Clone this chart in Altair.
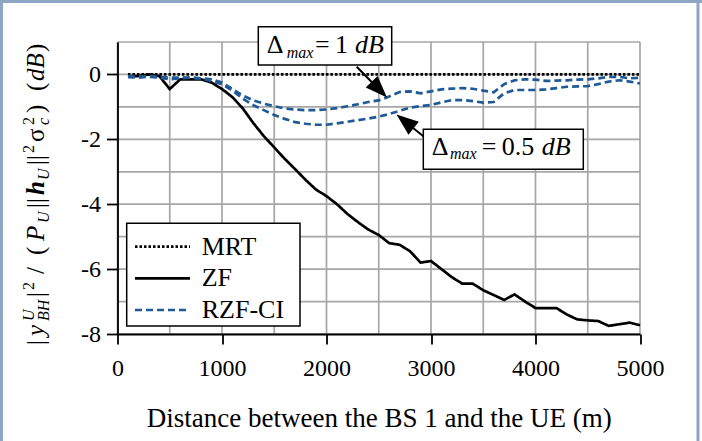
import altair as alt
import pandas as pd

# ---------------- data ----------------
distance = [100, 200, 300, 400, 500, 600, 700, 800, 900, 1000,
            1100, 1200, 1300, 1400, 1500, 1600, 1700, 1800, 1900, 2000,
            2100, 2200, 2300, 2400, 2500, 2600, 2700, 2800, 2900, 3000,
            3100, 3200, 3300, 3400, 3500, 3600, 3700, 3800, 3900, 4000,
            4100, 4200, 4300, 4400, 4500, 4600, 4700, 4800, 4900, 5000]

mrt = [0.0, 0.0, 0.0, 0.0, 0.0, 0.0, 0.0, 0.0, 0.0, 0.0,
       0.0, 0.0, 0.0, 0.0, 0.0, 0.0, 0.0, 0.0, 0.0, 0.0,
       0.0, 0.0, 0.0, 0.0, 0.0, 0.0, 0.0, 0.0, 0.0, 0.0,
       0.0, 0.0, 0.0, 0.0, 0.0, 0.0, 0.0, 0.0, 0.0, 0.0,
       0.0, 0.0, 0.0, 0.0, 0.0, 0.0, 0.0, 0.0, 0.0, 0.0]

zf = [-0.05, -0.05, 0.0, -0.05, -0.45, -0.15, -0.15, -0.15, -0.25, -0.45,
      -0.7, -1.05, -1.5, -1.9, -2.25, -2.6, -2.92, -3.25, -3.55, -3.75,
      -4.0, -4.3, -4.55, -4.78, -4.95, -5.2, -5.25, -5.45, -5.8, -5.75,
      -6.0, -6.25, -6.45, -6.45, -6.65, -6.8, -6.95, -6.78, -7.0, -7.2,
      -7.2, -7.2, -7.4, -7.55, -7.58, -7.6, -7.75, -7.7, -7.65, -7.73]

rzf_1db = [-0.05, -0.07, -0.05, -0.07, -0.1, -0.1, -0.1, -0.12, -0.15, -0.25,
           -0.45, -0.65, -0.8, -0.9, -0.98, -1.05, -1.08, -1.1, -1.1, -1.08,
           -1.04, -0.98, -0.92, -0.85, -0.8, -0.68, -0.54, -0.52, -0.58, -0.52,
           -0.46, -0.44, -0.42, -0.44, -0.5, -0.55, -0.3, -0.18, -0.15, -0.16,
           -0.2, -0.19, -0.18, -0.16, -0.15, -0.12, -0.08, -0.07, -0.12, -0.1]

rzf_05db = [-0.08, -0.1, -0.07, -0.1, -0.15, -0.12, -0.1, -0.12, -0.2, -0.3,
            -0.5, -0.75, -0.95, -1.1, -1.25, -1.37, -1.47, -1.52, -1.55, -1.55,
            -1.51, -1.46, -1.41, -1.36, -1.3, -1.22, -1.12, -1.02, -0.98, -0.94,
            -0.86, -0.79, -0.79, -0.82, -0.87, -0.85, -0.58, -0.48, -0.48, -0.48,
            -0.46, -0.42, -0.38, -0.37, -0.36, -0.3, -0.22, -0.18, -0.22, -0.28]

schemes = ["MRT", "ZF", "RZF-CI"]
x_ticks = [0, 1000, 2000, 3000, 4000, 5000]
y_ticks = [-8, -6, -4, -2, 0]
x_grid = [0, 500, 1000, 1500, 2000, 2500, 3000, 3500, 4000, 4500, 5000]
y_grid = [-8, -7, -6, -5, -4, -3, -2, -1, 0, 1]

# ---------------- styles ----------------
FONT = "Liberation Serif"
BLUE = "#1f5a96"
GRID = "#a6a6a6"
dashes = {"MRT": [2.5, 2], "ZF": [1, 0], "RZF-CI": [7, 4]}
colors = {"MRT": "black", "ZF": "black", "RZF-CI": BLUE}
LABEL_EXPR = "datum.value < 0 ? '-' + format(-datum.value, 'd') : format(datum.value, 'd')"

rows = []
for series, name, variant in [(mrt, "MRT", "a"), (zf, "ZF", "a"),
                              (rzf_1db, "RZF-CI", "1dB"), (rzf_05db, "RZF-CI", "0.5dB")]:
    for d, v in zip(distance, series):
        rows.append({"distance": d, "value": v, "scheme": name, "variant": variant})
df = pd.DataFrame(rows)

xscale = alt.Scale(domain=[0, 5000], nice=False, zero=False)
yscale = alt.Scale(domain=[-8, 1], nice=False, zero=False)

# grid
xg = alt.Chart(pd.DataFrame({"x": x_grid})).mark_rule(color=GRID, strokeWidth=1.7).encode(
    x=alt.X("x:Q", scale=xscale))
yg = alt.Chart(pd.DataFrame({"y": y_grid})).mark_rule(color=GRID, strokeWidth=1.7).encode(
    y=alt.Y("y:Q", scale=yscale))

lines = alt.Chart(df).mark_line(strokeWidth=2.7, clip=False).encode(
    x=alt.X("distance:Q", scale=xscale,
            axis=alt.Axis(values=x_ticks, grid=False, title="Distance between the BS 1 and the UE (m)",
                          domainColor="black", domainWidth=1.8, tickColor="black", tickWidth=1.8,
                          tickSize=10, labelFont=FONT, labelFontSize=24, labelColor="black",
                          labelPadding=12, labelExpr=LABEL_EXPR, titleFont=FONT, titleFontSize=27,
                          titleFontWeight="normal", titleColor="black", titleBaseline="alphabetic",
                          titleY=92, zindex=1, labelFlush=False)),
    y=alt.Y("value:Q", scale=yscale,
            axis=alt.Axis(values=y_ticks, grid=False, title=None, domainColor="black", domainWidth=1.8,
                          tickColor="black", tickWidth=1.8, tickSize=11, labelFont=FONT,
                          labelFontSize=24, labelColor="black", labelPadding=6, labelExpr=LABEL_EXPR,
                          zindex=1)),
    color=alt.Color("scheme:N", scale=alt.Scale(domain=schemes, range=[colors[s] for s in schemes]),
                    legend=None),
    strokeDash=alt.StrokeDash("scheme:N", scale=alt.Scale(domain=schemes, range=[dashes[s] for s in schemes]),
                              legend=None),
    detail="variant:N",
    order=alt.Order("distance:Q"),
)

OX, OY = 117.5, 42.0  # plot origin in page pixels


def px(x):
    return x - OX


def py(y):
    return y - OY


def text_layer(t, x, y, size, style="normal", weight="normal", angle=0, align="left", baseline="alphabetic",
               color="black"):
    kw = dict(font=FONT, fontSize=size, fontStyle=style, fontWeight=weight, align=align,
              baseline=baseline, color=color)
    if angle:
        kw["angle"] = angle
    return alt.Chart(pd.DataFrame({"t": [t]})).mark_text(**kw).encode(
        x=alt.value(px(x)), y=alt.value(py(y)), text="t:N")


def rect_layer(x1, y1, x2, y2, stroke="black", sw=1.5, fill="white"):
    return alt.Chart(pd.DataFrame({"a": [0]})).mark_rect(fill=fill, stroke=stroke, strokeWidth=sw).encode(
        x=alt.value(px(x1)), x2=alt.value(px(x2)), y=alt.value(py(y1)), y2=alt.value(py(y2)))


def rule_layer(x1, y1, x2, y2, color="black", sw=2.0, dash=None):
    kw = dict(color=color, strokeWidth=sw)
    if dash is not None:
        kw["strokeDash"] = dash
    return alt.Chart(pd.DataFrame({"a": [0]})).mark_rule(**kw).encode(
        x=alt.value(px(x1)), x2=alt.value(px(x2)), y=alt.value(py(y1)), y2=alt.value(py(y2)))


ARROW = "M0,0 L0.75,2 L-0.75,2 Z"


def head_layer(x, y, angle, size=484):
    return alt.Chart(pd.DataFrame({"a": [0]})).mark_point(
        shape=ARROW, filled=True, color="black", opacity=1, size=size, angle=angle, strokeWidth=0).encode(
        x=alt.value(px(x)), y=alt.value(py(y)))


layers = [xg, yg, lines]

# annotation 1 : Delta_max = 1 dB
layers += [
    rule_layer(356.7, 66.7, 378, 88.5),
    head_layer(387, 97.5, 135.7),
    rect_layer(258.3, 26.7, 391.7, 65),
    text_layer("\u0394", 266.7, 53.3, 26),
    text_layer("max", 286.7, 57.5, 16, style="italic"),
    text_layer("=", 315, 53.3, 26),
    text_layer("1", 335, 53.3, 26),
    text_layer("dB", 355, 53.3, 26, style="italic"),
]
# annotation 2 : Delta_max = 0.5 dB
layers += [
    rule_layer(424, 136.7, 405, 121.5),
    head_layer(396.5, 114.5, 308.8),
    rect_layer(423.3, 129.3, 583.3, 169.3),
    text_layer("\u0394", 431.7, 155, 26),
    text_layer("max", 450, 159.2, 16, style="italic"),
    text_layer("=", 481.7, 155, 26),
    text_layer("0.5", 501.7, 155, 26),
    text_layer("dB", 541.7, 155, 26, style="italic"),
]

# legend
layers.append(rect_layer(126.7, 223.3, 300, 326))
for i, name in enumerate(schemes):
    yy = [246.7, 278.3, 310.0][i]
    layers.append(rule_layer(135, yy, 190, yy, color=colors[name], sw=2.7, dash=dashes[name]))
    layers.append(text_layer(name, 201.7, yy, 26, baseline="middle"))

# rotated y-axis title, built from pieces
XB = 44.0
MS, SS = 25, 16
ytitle = [
    ("|", 345, MS, "normal", "normal", 0),
    ("y", 336, MS, "italic", "normal", 0),
    ("U", 321, SS, "italic", "normal", -10),
    ("BH", 321, SS, "italic", "normal", 5),
    ("|", 297, MS, "normal", "normal", 0),
    ("2", 290, SS, "normal", "normal", -10),
    ("/", 274, MS, "normal", "normal", 0),
    ("(", 255, MS, "normal", "normal", 0),
    ("P", 241, MS, "italic", "normal", 0),
    ("U", 223, SS, "italic", "normal", 5),
    ("||", 208, MS, "normal", "normal", 0),
    ("h", 195, MS, "italic", "bold", 0),
    ("U", 180, SS, "italic", "normal", 5),
    ("||", 165, MS, "normal", "normal", 0),
    ("2", 153, SS, "normal", "normal", -10),
    ("\u03c3", 142, MS, "normal", "normal", 0),
    ("2", 125, SS, "normal", "normal", -10),
    ("c", 125, SS, "italic", "normal", 5),
    (")", 113, MS, "normal", "normal", 0),
    ("(", 91, MS, "normal", "normal", 0),
    ("dB", 81, MS, "italic", "normal", 0),
    (")", 52, MS, "normal", "normal", 0),
]
for t, ys, sz, st, wt, sh in ytitle:
    layers.append(text_layer(t, XB + sh, ys, sz, style=st, weight=wt, angle=270))

# outer frame of the picture
FR = "#8ea5c3"
layers.append(rule_layer(0, 1.5, 702, 1.5, color=FR, sw=3))
layers.append(rule_layer(1.5, 0, 1.5, 441, color=FR, sw=3))
layers.append(rule_layer(698, 0, 698, 441, color=FR, sw=3))

chart = alt.layer(*layers).properties(
    width=522.5, height=292,
    autosize=alt.AutoSizeParams(type="none"),
    padding={"left": OX, "top": OY, "right": 702 - OX - 522.5, "bottom": 441 - OY - 292},
    background="white",
).configure_view(stroke=None)

chart.save("out.html", embed_options={"renderer": "svg", "actions": False})
